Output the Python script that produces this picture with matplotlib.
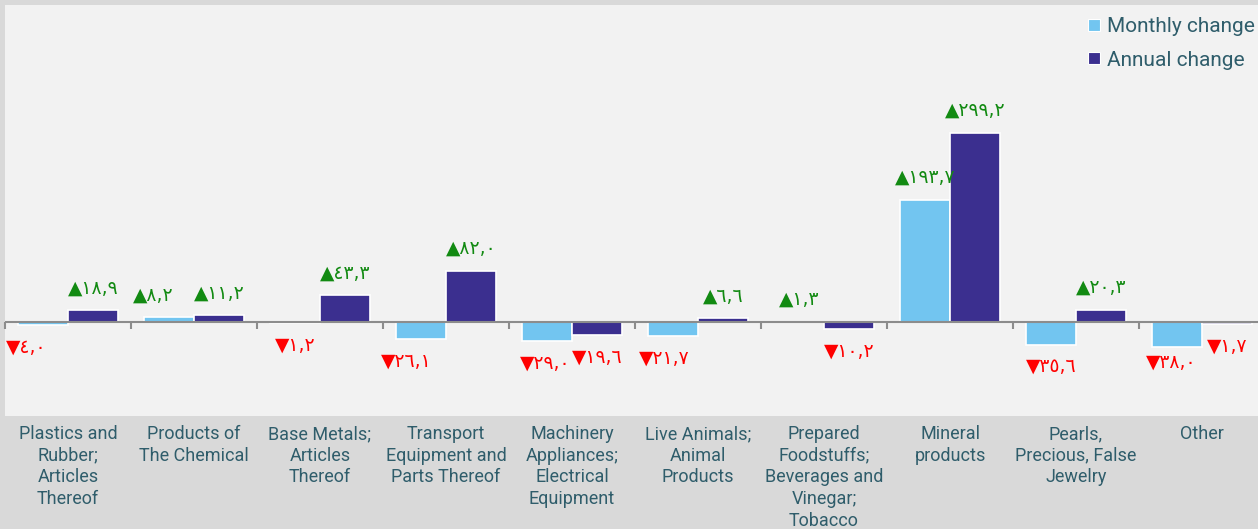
import matplotlib
matplotlib.use("Agg")
import matplotlib.pyplot as plt
from matplotlib.lines import Line2D
import numpy as np

categories = [
    "Plastics and\nRubber;\nArticles\nThereof",
    "Products of\nThe Chemical",
    "Base Metals;\nArticles\nThereof",
    "Transport\nEquipment and\nParts Thereof",
    "Machinery\nAppliances;\nElectrical\nEquipment",
    "Live Animals;\nAnimal\nProducts",
    "Prepared\nFoodstuffs;\nBeverages and\nVinegar;\nTobacco",
    "Mineral\nproducts",
    "Pearls,\nPrecious, False\nJewelry",
    "Other",
]
monthly = [-4.0, 8.2, -1.2, -26.1, -29.0, -21.7, 1.3, 193.7, -35.6, -38.0]
annual = [18.9, 11.2, 43.3, 82.0, -19.6, 6.6, -10.2, 299.2, 20.3, -1.7]
series_names = ["Monthly change", "Annual change"]

# label nudges (px) for readability, as in the reference
monthly_dx = [-17, -16, 0, -15, -2, -9, 0, 0, 0, -6]
monthly_dy = [0, 0, 0, 0, 0, 0, 0, 0, 0, 7]

C_MONTH = "#72C5F0"
C_YEAR = "#3B2F8F"
TXT = "#2F5D6B"
GREEN = "#128A12"
RED = "#FF0000"

AR_DIGITS = str.maketrans("0123456789", "٠١٢٣٤٥٦٧٨٩")

def fmt(v):
    s = f"{abs(v):.1f}".replace(".", ",").translate(AR_DIGITS)
    return ("▲" if v >= 0 else "▼") + s

FONT = ["Liberation Sans Narrow", "Roboto", "DejaVu Sans"]
plt.rcParams["font.family"] = FONT

W, H = 1258, 529
fig = plt.figure(figsize=(W / 100, H / 100), dpi=100, facecolor="#D9D9D9")
ax = fig.add_axes([5 / W, (H - 416) / H, 1260 / W, 411 / H])
ax.set_facecolor("#F2F2F2")

x = np.arange(len(categories))
bw = 0.395
off = 0.198
ax.bar(x - off, monthly, bw, color=C_MONTH, edgecolor="white", linewidth=1.2, zorder=2)
ax.bar(x + off, annual, bw, color=C_YEAR, edgecolor="white", linewidth=1.2, zorder=2)

ax.set_xlim(-0.5, len(categories) - 0.5)
ax.set_ylim(-147.6, 501)

# zero line with boundary ticks
ax.axhline(0, color="#8C8C8C", linewidth=1.5, zorder=3)
bounds = np.arange(len(categories) + 1) - 0.5
ax.plot(bounds, np.zeros_like(bounds), linestyle="none", marker=3,
        markersize=5, markeredgewidth=1.5, color="#8C8C8C", zorder=3, clip_on=False)

for i in range(len(categories)):
    for val, xo, dx, dy in ((monthly[i], -off, monthly_dx[i], monthly_dy[i]),
                            (annual[i], off, 0, 0)):
        sign = 1 if val >= 0 else -1
        ax.annotate(fmt(val), xy=(x[i] + xo, val),
                    xytext=(dx * 0.72, sign * (16 - dy * 0.72)),
                    textcoords="offset points", ha="center", va="center",
                    fontsize=13.5, color=GREEN if val >= 0 else RED,
                    family=["DejaVu Sans"], zorder=4)

for s in ax.spines.values():
    s.set_visible(False)
ax.set_yticks([])
ax.set_xticks(x)
ax.set_xticklabels(categories, fontsize=13, color=TXT, linespacing=1.26, va="top")
ax.tick_params(axis="x", length=0, pad=6.5)

handles = [Line2D([], [], marker="s", linestyle="none", markersize=8,
                  markerfacecolor=c, markeredgecolor="white", markeredgewidth=0.8)
           for c in (C_MONTH, C_YEAR)]
leg = fig.legend(handles, series_names, loc="upper right",
                 bbox_to_anchor=(1255 / W, (H - 17) / H), bbox_transform=fig.transFigure,
                 frameon=False, fontsize=15, handlelength=0.6, handletextpad=0.35,
                 labelspacing=0.7, borderpad=0, borderaxespad=0)
for t in leg.get_texts():
    t.set_color(TXT)

fig.savefig("out.png", dpi=100, facecolor=fig.get_facecolor())
